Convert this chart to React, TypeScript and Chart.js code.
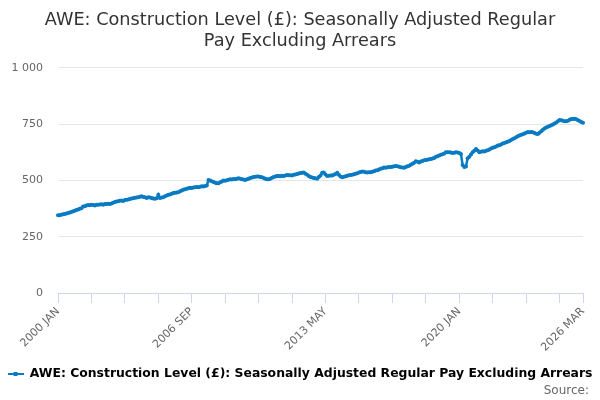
import { Chart, registerables } from "chart.js";
import { useEffect, useRef } from "react";

Chart.register(...registerables);

const MONTHS = ["JAN", "FEB", "MAR", "APR", "MAY", "JUN", "JUL", "AUG", "SEP", "OCT", "NOV", "DEC"];
const START_YEAR = 2000;

// monthly values (one row per year)
const awe2000 = [345, 346, 348, 350, 351, 353, 355, 358, 360, 363, 366, 369];
const awe2001 = [371, 374, 377, 384, 386, 389, 391, 390, 392, 391, 389, 392];
const awe2002 = [392, 393, 394, 392, 395, 396, 397, 396, 398, 401, 404, 407];
const awe2003 = [408, 410, 411, 409, 413, 414, 416, 418, 420, 421, 423, 424];
const awe2004 = [425, 428, 430, 427, 425, 422, 426, 424, 422, 420, 419, 421];
const awe2005 = [437, 422, 424, 426, 430, 433, 437, 438, 441, 444, 445, 447];
const awe2006 = [448, 452, 455, 459, 461, 463, 465, 468, 467, 469, 470, 471];
const awe2007 = [470, 472, 474, 473, 476, 478, 502, 500, 497, 493, 490, 488];
const awe2008 = [488, 492, 495, 500, 499, 501, 503, 505, 504, 507, 506, 508];
const awe2009 = [510, 508, 506, 504, 502, 505, 508, 511, 513, 515, 517, 518];
const awe2010 = [518, 516, 514, 511, 508, 506, 505, 508, 512, 515, 518, 520];
const awe2011 = [520, 519, 521, 520, 522, 524, 523, 523, 522, 525, 527, 529];
const awe2012 = [531, 533, 534, 535, 530, 525, 520, 516, 513, 511, 510, 508];
const awe2013 = [515, 522, 534, 536, 527, 520, 521, 522, 522, 526, 529, 534];
const awe2014 = [525, 518, 514, 517, 519, 521, 523, 524, 526, 528, 530, 532];
const awe2015 = [535, 538, 540, 539, 537, 536, 537, 537, 539, 541, 544, 546];
const awe2016 = [549, 552, 554, 558, 557, 559, 560, 560, 561, 563, 564, 563];
const awe2017 = [561, 559, 558, 557, 560, 563, 566, 570, 574, 579, 586, 583];
const awe2018 = [580, 584, 587, 590, 591, 592, 594, 596, 598, 600, 605, 608];
const awe2019 = [611, 614, 617, 620, 625, 626, 625, 624, 622, 623, 625, 624];
const awe2020 = [622, 618, 569, 560, 562, 599, 605, 615, 625, 632, 640, 633];
const awe2021 = [626, 628, 630, 629, 632, 634, 638, 642, 645, 648, 651, 655];
const awe2022 = [657, 660, 664, 667, 670, 672, 676, 680, 684, 688, 692, 697];
const awe2023 = [700, 703, 706, 709, 712, 715, 714, 716, 714, 711, 708, 707];
const awe2024 = [712, 719, 726, 731, 736, 739, 742, 746, 749, 753, 758, 763];
const awe2025 = [769, 768, 765, 763, 763, 766, 770, 773, 773, 774, 772, 768];
const awe2026 = [764, 760, 757];

const aweValues = [
  ...awe2000, ...awe2001, ...awe2002, ...awe2003, ...awe2004, ...awe2005, ...awe2006,
  ...awe2007, ...awe2008, ...awe2009, ...awe2010, ...awe2011, ...awe2012, ...awe2013,
  ...awe2014, ...awe2015, ...awe2016, ...awe2017, ...awe2018, ...awe2019, ...awe2020,
  ...awe2021, ...awe2022, ...awe2023, ...awe2024, ...awe2025, ...awe2026,
];

const monthLabels = aweValues.map(
  (_, i) => `${START_YEAR + Math.floor(i / 12)} ${MONTHS[i % 12]}`
);

const yTicks = [0, 250, 500, 750, 1000];

const TITLE = ["AWE: Construction Level (£): Seasonally Adjusted Regular", "Pay Excluding Arrears"];
const SERIES = "AWE: Construction Level (£): Seasonally Adjusted Regular Pay Excluding Arrears";
const SOURCE = "Source:";
const LINE = "#0a7bc2";

Chart.defaults.font.family = "'DejaVu Sans', sans-serif";

const legendIcon = () => {
  const c = document.createElement("canvas");
  c.width = 16;
  c.height = 8;
  const g = c.getContext("2d");
  if (g) {
    g.strokeStyle = LINE;
    g.lineWidth = 2;
    g.beginPath();
    g.moveTo(0, 4);
    g.lineTo(16, 4);
    g.stroke();
    g.fillStyle = LINE;
    g.fillRect(6, 2, 4, 4);
  }
  return c;
};

// "Source:" credit in the bottom right corner
const sourceNote = {
  id: "sourceNote",
  afterDraw(chart: Chart) {
    const g = chart.ctx;
    g.save();
    g.font = "12px 'DejaVu Sans', sans-serif";
    g.fillStyle = "#666666";
    g.textAlign = "right";
    g.textBaseline = "middle";
    g.fillText(SOURCE, 589, 391);
    g.restore();
  },
};

const App = () => {
  const chartRef = useRef<Chart | null>(null);
  const canvasRef = useRef<HTMLCanvasElement | null>(null);

  useEffect(() => {
    document.body.style.margin = "0";
    if (!canvasRef.current) return;
    if (chartRef.current) chartRef.current.destroy();
    const ctx = canvasRef.current.getContext("2d");
    if (!ctx) return;

    const last = aweValues.length - 1;
    const icon = legendIcon();

    chartRef.current = new Chart(ctx, {
      type: "line",
      data: {
        labels: monthLabels,
        datasets: [
          {
            label: SERIES,
            data: aweValues,
            borderColor: LINE,
            backgroundColor: LINE,
            borderWidth: 2.5,
            pointRadius: 2,
            pointBorderWidth: 0,
            pointBackgroundColor: LINE,
            tension: 0,
          },
        ],
      },
      plugins: [sourceNote],
      options: {
        responsive: false,
        animation: false,
        layout: { padding: { top: 0, left: 0, right: 0, bottom: 9.8 } },
        scales: {
          x: {
            type: "category",
            offset: false,
            border: { display: true, color: "#ccd6eb", width: 1 },
            grid: {
              drawOnChartArea: false,
              drawTicks: true,
              tickLength: 10,
              color: (c: any) =>
                c.index % 20 === 0 || c.index === last ? "#ccd6eb" : "rgba(0,0,0,0)",
            },
            ticks: {
              autoSkip: false,
              maxRotation: 45,
              minRotation: 45,
              padding: 2,
              color: "#666666",
              font: { size: 11 },
              callback: (_v: any, i: number) =>
                i % 80 === 0 || i === last ? monthLabels[i] : "",
            },
            afterFit: (s: any) => {
              s.height = 74.5;
            },
          },
          y: {
            min: 0,
            max: 1000,
            border: { display: false },
            afterBuildTicks: (s: any) => {
              s.ticks = yTicks.map((v) => ({ value: v }));
            },
            grid: { color: "#e6e6e6", drawTicks: false },
            ticks: {
              padding: 15,
              color: "#666666",
              font: { size: 11 },
              callback: (v: any) => (Number(v) >= 1000 ? "1 000" : String(v)),
            },
            afterFit: (s: any) => {
              s.width = 58;
            },
          },
          // empty right-hand axis, only keeps the plot off the right edge
          yRight: {
            position: "right",
            display: true,
            border: { display: false },
            grid: { display: false, drawTicks: false },
            ticks: { display: false },
            afterFit: (s: any) => {
              s.width = 17;
            },
          },
        },
        plugins: {
          title: {
            display: true,
            text: TITLE,
            color: "#333333",
            font: { size: 17.7, weight: "normal", lineHeight: 1.2 },
            padding: { top: 10, bottom: 15.5 },
          },
          legend: {
            position: "bottom",
            labels: {
              color: "#333333",
              font: { size: 12.4, weight: "bold" },
              usePointStyle: true,
              pointStyleWidth: 16,
              padding: 0.3,
              generateLabels: () => [
                {
                  text: SERIES,
                  pointStyle: icon,
                  fillStyle: LINE,
                  strokeStyle: LINE,
                  lineWidth: 0,
                  hidden: false,
                  datasetIndex: 0,
                },
              ],
            },
          },
          tooltip: { enabled: false },
        },
      },
    });

    return () => {
      if (chartRef.current) {
        chartRef.current.destroy();
        chartRef.current = null;
      }
    };
  }, []);

  return (
    <div style={{ width: 600, height: 400, background: "#ffffff" }}>
      <canvas ref={canvasRef} width={600} height={400}></canvas>
    </div>
  );
};

export default App;
